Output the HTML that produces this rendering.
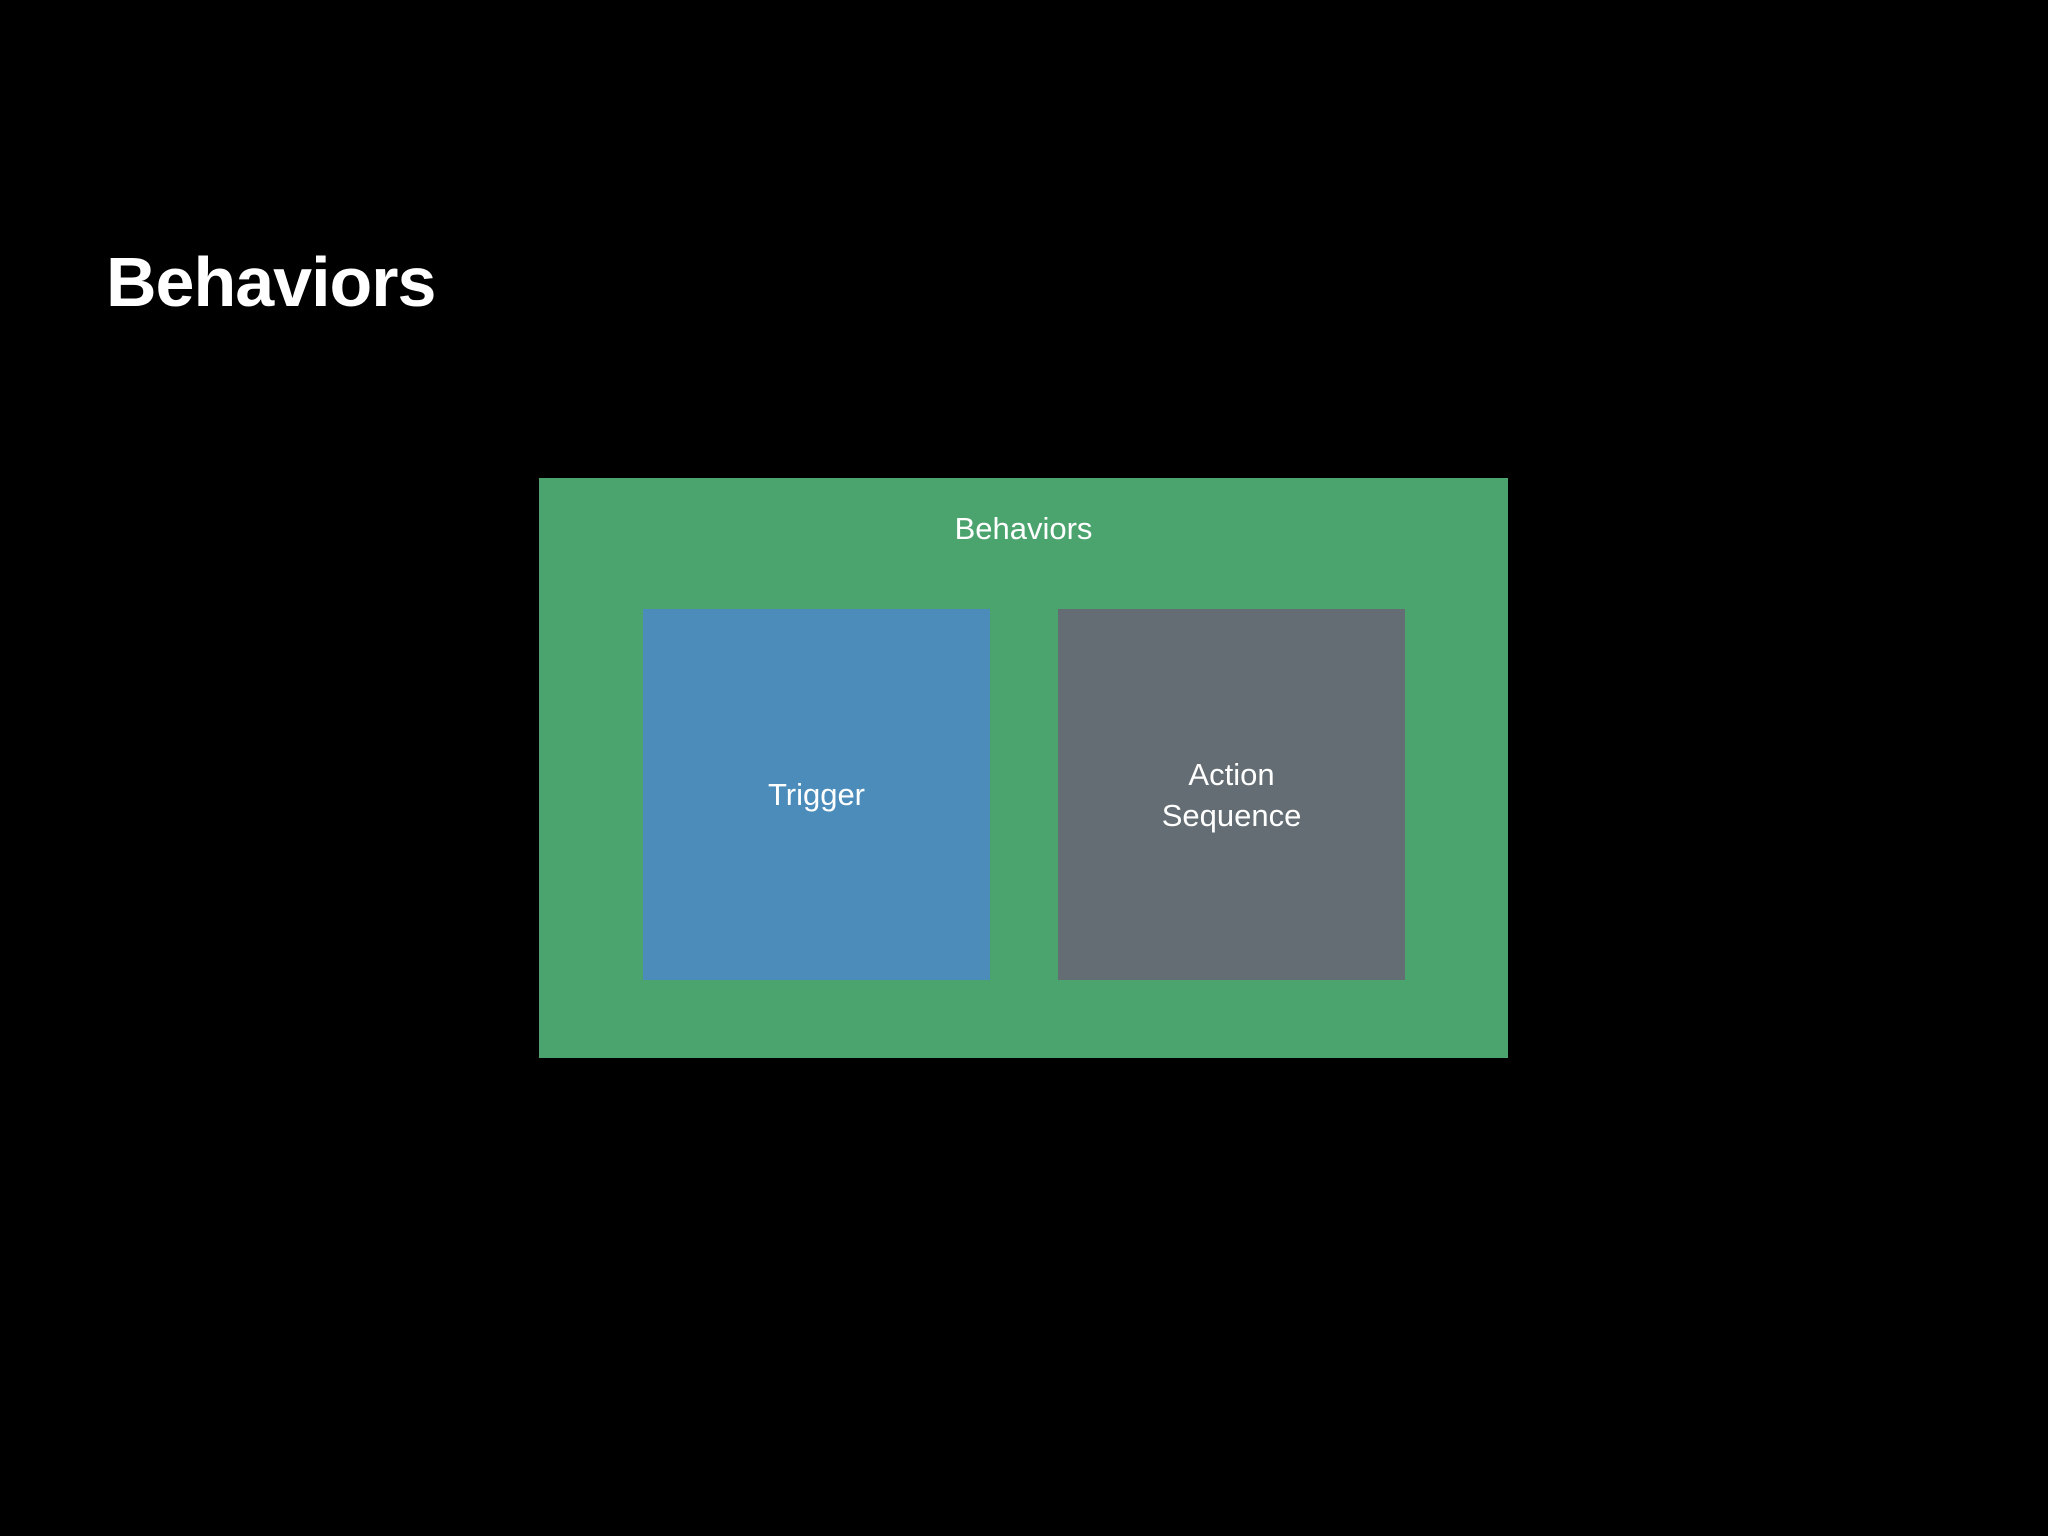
<!DOCTYPE html>
<html><head><style>
html,body{margin:0;padding:0;background:#000;}
body{width:2048px;height:1536px;position:relative;overflow:hidden;font-family:"Liberation Sans",sans-serif;color:#fff;}
.title{position:absolute;left:106px;top:242px;font-size:70px;font-weight:bold;letter-spacing:-1px;}
.g{position:absolute;left:539px;top:478px;width:969px;height:580px;background:#4ba36d;}
.gl{position:absolute;left:539px;top:511px;width:969px;text-align:center;font-size:31px;}
.b{position:absolute;top:609px;width:347px;height:371px;display:flex;align-items:center;justify-content:center;text-align:center;font-size:31px;line-height:41px;}
</style></head><body>
<div class="title">Behaviors</div>
<div class="g"></div>
<div class="gl">Behaviors</div>
<div class="b" style="left:643px;background:#4b8cba;">Trigger</div>
<div class="b" style="left:1058px;background:#636d73;">Action<br>Sequence</div>
</body></html>
